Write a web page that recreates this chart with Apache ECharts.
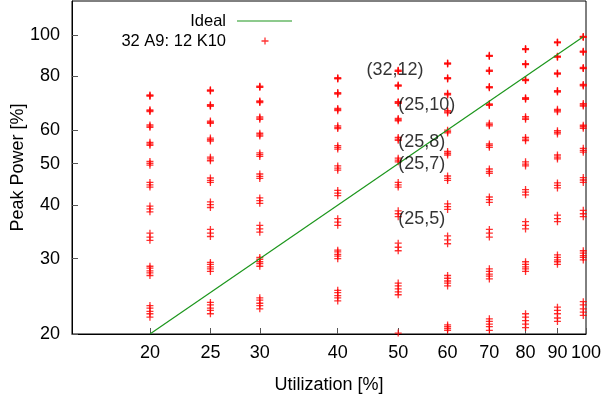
<!DOCTYPE html>
<html>
<head>
<meta charset="utf-8">
<script src="https://cdn.jsdelivr.net/npm/echarts@6/dist/echarts.min.js"></script>
<style>
  html, body { margin: 0; padding: 0; background: #fff; }
  #chart { width: 603px; height: 398px; }
</style>
</head>
<body>
<div id="chart"></div>
<script>
// Utilization levels (%) at which the configurations were measured
const utilization = [20, 25, 30, 40, 50, 60, 70, 80, 90, 99];

// Peak power (%) of every configuration, one list per utilization level
const peakAt20 = [21.9, 22.3, 22.6, 23.0, 23.3, 27.4, 27.8, 28.1, 28.5, 28.8,
  33.1, 33.7, 34.4, 38.6, 39.2, 39.8, 44.1, 44.6, 45.2, 49.6, 50.1, 50.6,
  55.2, 55.6, 56.1, 60.8, 61.2, 61.6, 66.2, 66.5, 66.8, 71.9, 72.1, 72.4];
const peakAt25 = [22.3, 22.7, 23.0, 23.4, 23.7, 28.0, 28.4, 28.7, 29.1, 29.4,
  33.8, 34.4, 35.1, 39.5, 40.1, 40.7, 45.2, 45.7, 46.3, 50.8, 51.3, 51.8,
  56.5, 56.9, 57.4, 62.1, 62.5, 62.9, 68.1, 68.4, 68.7, 73.9, 74.1, 74.4];
const peakAt30 = [22.9, 23.3, 23.6, 24.0, 24.3, 28.8, 29.2, 29.5, 29.9, 30.2,
  34.6, 35.2, 35.9, 40.4, 41.0, 41.6, 46.2, 46.7, 47.3, 52.0, 52.5, 53.0,
  58.0, 58.4, 58.9, 63.5, 63.9, 64.3, 69.5, 69.8, 70.1, 75.4, 75.6, 75.9];
const peakAt40 = [23.9, 24.3, 24.6, 25.0, 25.3, 30.0, 30.4, 30.7, 31.1, 31.4,
  35.9, 36.5, 37.2, 42.1, 42.7, 43.3, 48.3, 48.8, 49.4, 54.1, 54.6, 55.1,
  60.4, 60.8, 61.3, 66.5, 66.9, 67.3, 72.7, 73.0, 73.3, 78.9, 79.1, 79.4];
const peakAt50 = [20.1, 24.7, 25.1, 25.5, 25.9, 26.3,
  31.3, 31.9, 32.6, 37.6, 38.2, 38.8, 44.1, 44.6, 45.2, 50.5, 51.0, 51.5,
  56.7, 57.1, 57.6, 63.0, 63.4, 63.8, 69.2, 69.5, 69.8, 75.9, 76.1, 76.4,
  82.2, 82.4, 82.7];
const peakAt60 = [20.4, 20.6, 20.8, 21.0, 25.9, 26.3, 26.6, 27.0, 27.4,
  32.5, 33.2, 33.9, 39.1, 39.7, 40.3, 45.7, 46.2, 46.8, 52.4, 52.9, 53.4,
  59.0, 59.4, 59.9, 65.7, 66.1, 66.5, 72.4, 72.7, 73.0, 78.9, 79.1, 79.4,
  85.5, 85.7, 86.0];
const peakAt70 = [20.4, 20.8, 21.1, 21.4, 21.7, 26.9, 27.3, 27.6, 28.0, 28.4,
  33.7, 34.4, 35.1, 40.6, 41.2, 41.8, 47.5, 48.0, 48.6, 54.6, 55.1, 55.6,
  61.3, 61.7, 62.2, 68.4, 68.7, 69.0, 75.2, 75.4, 75.7, 82.2, 82.4, 82.7,
  89.1, 89.3, 89.6];
const peakAt80 = [20.7, 21.1, 21.5, 21.9, 22.3, 28.0, 28.4, 28.7, 29.1, 29.5,
  35.2, 35.9, 36.6, 42.3, 42.9, 43.5, 49.4, 49.9, 50.5, 56.6, 57.1, 57.6,
  63.5, 63.9, 64.4, 70.7, 71.0, 71.3, 78.2, 78.4, 78.7, 85.2, 85.4, 85.7,
  92.4, 92.6, 92.9];
const peakAt90 = [21.4, 21.8, 22.3, 22.7, 23.1, 29.1, 29.5, 29.8, 30.2, 30.6,
  36.6, 37.2, 37.9, 43.9, 44.5, 45.1, 51.3, 51.8, 52.4, 58.7, 59.2, 59.7,
  66.1, 66.5, 67.0, 73.5, 73.8, 74.1, 81.0, 81.2, 81.5, 88.7, 88.9, 89.2,
  95.8, 96.0, 96.3];
const peakAt99 = [22.1, 22.5, 22.9, 23.4, 23.8, 29.8, 30.2, 30.5, 30.9, 31.3,
  37.6, 38.2, 38.9, 45.2, 45.8, 46.4, 53.2, 53.7, 54.3, 60.5, 61.0, 61.5,
  68.2, 68.6, 69.1, 76.0, 76.3, 76.6, 83.4, 83.6, 83.9, 91.1, 91.3, 91.6,
  98.7, 98.9, 99.2];
const peakByLevel = [peakAt20, peakAt25, peakAt30, peakAt40, peakAt50,
  peakAt60, peakAt70, peakAt80, peakAt90, peakAt99];

// Ideal (energy-proportional) reference: power equals utilization
const idealUtil = [20, 99];
const idealPower = [20, 99];

// Annotated configurations: (A9 cores, K10 cores)
const noteText = ['(32,12)', '(25,10)', '(25,8)', '(25,7)', '(25,5)'];
const noteUtil = [49.4, 50, 50, 50, 50];
const notePower = [82.8, 68.7, 56.1, 50.0, 37.2];
const noteAlign = ['center', 'left', 'left', 'left', 'left'];

// Tick labels
const xTicks = [20, 25, 30, 40, 50, 60, 70, 80, 90, 100];
const yTicks = [20, 30, 40, 50, 60, 80, 100];

const seriesName = '32 A9: 12 K10';
const FONT = "'Liberation Sans', Arial, Helvetica, sans-serif";
const PLUS = 'path://M2.85,0H4.15V2.85H7V4.15H4.15V7H2.85V4.15H0V2.85H2.85Z';
const GREEN = '#1c961c';

const points = [];
utilization.forEach((u, i) => {
  peakByLevel[i].forEach(p => points.push([u, p]));
});
const idealData = idealUtil.map((u, i) => [u, idealPower[i]]);
const noteData = noteText.map((t, i) => ({
  value: [noteUtil[i], notePower[i]],
  label: { align: noteAlign[i] },
  name: t
}));

const legendText = { fontSize: 16.5, lineHeight: 17, color: '#000', fontFamily: FONT };

const chart = echarts.init(document.getElementById('chart'), null, { renderer: 'canvas' });
chart.setOption({
  animation: false,
  backgroundColor: '#fff',
  textStyle: { fontFamily: FONT },
  grid: {
    left: 72, right: 17, top: 1, bottom: 64,
    show: true, borderColor: '#000', borderWidth: 1,
    outerBoundsMode: 'none'
  },
  legend: [
    {
      data: [{ name: 'Ideal', icon: 'rect' }],
      orient: 'vertical',
      align: 'right',
      right: 311,
      top: 12.5,
      padding: 0,
      itemWidth: 55,
      itemHeight: 1.2,
      itemStyle: { color: GREEN },
      textStyle: Object.assign({ padding: [0, 6, 0, 0] }, legendText)
    },
    {
      data: [seriesName],
      orient: 'vertical',
      align: 'right',
      right: 334.5,
      top: 32.5,
      padding: 0,
      itemWidth: 7,
      itemHeight: 7,
      textStyle: Object.assign({ padding: [0, 30.5, 0, 0] }, legendText)
    }
  ],
  xAxis: {
    type: 'log',
    logBase: 10,
    min: 15,
    max: 100,
    name: 'Utilization [%]',
    nameLocation: 'middle',
    nameGap: 42,
    nameTextStyle: { fontSize: 18, color: '#000', fontFamily: FONT },
    axisLine: { show: true, lineStyle: { color: '#000', width: 1 } },
    axisTick: { show: true, inside: true, length: 6, customValues: xTicks, lineStyle: { color: '#555' } },
    axisLabel: { customValues: xTicks, fontSize: 18, color: '#000', margin: 10, fontFamily: FONT },
    splitLine: { show: false },
    minorTick: { show: false }
  },
  yAxis: {
    type: 'log',
    logBase: 10,
    min: 20,
    max: 120,
    name: 'Peak Power [%]',
    nameLocation: 'middle',
    nameGap: 45,
    nameMoveOverlap: false,
    nameTextStyle: { fontSize: 18, color: '#000', fontFamily: FONT },
    axisLine: { show: true, lineStyle: { color: '#000', width: 1 } },
    axisTick: { show: true, inside: true, length: 6, customValues: yTicks, lineStyle: { color: '#555' } },
    axisLabel: { customValues: yTicks, fontSize: 18, color: '#000', margin: 12, fontFamily: FONT },
    splitLine: { show: false },
    minorTick: { show: false }
  },
  series: [
    {
      name: 'Ideal',
      type: 'line',
      data: idealData,
      symbol: 'none',
      lineStyle: { color: GREEN, width: 1.2 },
      itemStyle: { color: GREEN },
      z: 3
    },
    {
      name: seriesName,
      type: 'scatter',
      data: points,
      symbol: PLUS,
      symbolSize: 7,
      symbolKeepAspect: true,
      itemStyle: { color: '#ff0000' },
      z: 2
    },
    {
      name: 'notes',
      type: 'scatter',
      data: noteData,
      symbolSize: 0,
      silent: true,
      z: 5,
      label: {
        show: true,
        position: 'inside',
        verticalAlign: 'middle',
        formatter: p => p.name,
        fontSize: 18,
        color: '#000',
        fontFamily: FONT
      }
    }
  ]
});
</script>
</body>
</html>
